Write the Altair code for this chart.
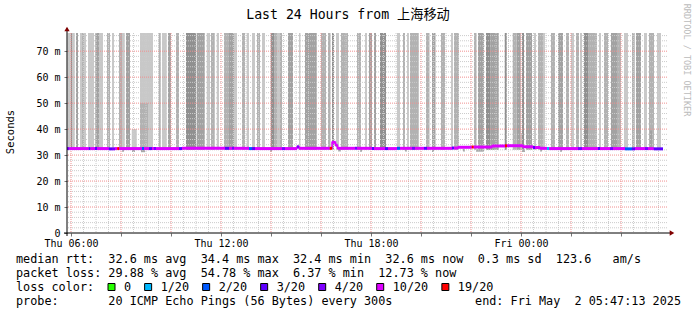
import altair as alt
import pandas as pd

NB = "\u00a0"
MONO = "DejaVu Sans Mono"

# ---------------- data (time in hours since Thu 00:00, rtt in ms) ----------------
smoke_start = [5.86, 5.99, 6.04, 6.20, 6.36, 6.44, 6.52, 6.68, 6.97, 7.12,
               7.44, 7.64, 7.92, 8.04, 8.20, 8.76, 9.08, 9.51, 9.64, 9.88,
               10.20, 10.60, 11.03, 11.43, 11.60, 11.83, 12.12, 12.32, 12.52, 12.84,
               13.03, 13.24, 13.44, 13.64, 13.99, 14.12, 14.24, 14.36, 14.68, 15.12,
               15.36, 16.00, 16.28, 16.44, 16.60, 16.80, 17.44, 17.76, 17.92, 18.12,
               18.36, 19.04, 19.28, 19.44, 19.56, 20.20, 20.44, 20.80, 21.20, 21.32,
               22.12, 22.28, 22.60, 22.79, 23.35, 23.67, 23.83, 24.04, 24.20, 24.52,
               24.68, 24.88, 25.20, 25.48, 25.80, 26.00, 26.20, 26.36, 26.52, 26.68,
               27.12, 27.32, 27.60, 27.84, 28.12, 28.44, 28.60, 28.92, 29.12, 29.44]
smoke_end = [5.98, 6.04, 6.15, 6.28, 6.44, 6.52, 6.60, 6.92, 7.12, 7.28,
             7.56, 7.72, 8.04, 8.15, 8.36, 9.08, 9.28, 9.59, 9.83, 10.00,
             10.32, 11.00, 11.35, 11.56, 11.75, 11.92, 12.32, 12.52, 12.64, 12.96,
             13.12, 13.36, 13.56, 13.76, 14.12, 14.24, 14.36, 14.44, 14.88, 15.18,
             15.83, 16.20, 16.38, 16.52, 16.72, 17.08, 17.60, 17.84, 18.04, 18.20,
             18.60, 19.16, 19.36, 19.52, 19.91, 20.34, 20.58, 20.96, 21.28, 21.52,
             22.22, 22.52, 22.79, 23.11, 23.43, 23.83, 23.99, 24.12, 24.44, 24.60,
             24.88, 24.96, 25.36, 25.68, 25.92, 26.12, 26.32, 26.44, 26.68, 27.04,
             27.20, 27.48, 27.84, 28.00, 28.28, 28.55, 28.80, 29.04, 29.32, 29.60]
smoke_shade = ["L", "K", "L", "D", "L", "M", "L", "L", "D", "L",
               "M", "L", "M", "L", "D", "L", "L", "M", "L", "D",
               "M", "K", "D", "L", "M", "L", "M", "D", "L", "M",
               "L", "L", "M", "L", "K", "M", "L", "M", "D", "L",
               "D", "M", "M", "K", "L", "M", "M", "L", "D", "D",
               "K", "L", "M", "L", "M", "M", "D", "M", "L", "M",
               "M", "D", "K", "D", "K", "M", "D", "K", "D", "L",
               "M", "L", "M", "D", "M", "L", "M", "L", "K", "M",
               "L", "M", "D", "M", "L", "M", "D", "L", "M", "L"]
smoke_floor_ms = 32.0
smoke_ceiling_ms = 77.0

short_start = [8.43, 8.76, 24.00, 29.16]
short_end = [8.63, 9.08, 24.04, 29.24]
short_shade = ["L", "M", "L", "D"]
short_top = [40.0, 50.0, 38.5, 39.5]

low_start = [8.04, 8.44, 8.80, 13.96, 16.68, 17.56, 19.36, 20.44, 21.68, 22.20, 24.04, 24.76, 25.56]
low_end = [8.12, 8.56, 8.96, 14.04, 16.80, 17.64, 19.44, 20.52, 21.76, 22.52, 24.16, 24.84, 25.64]
low_bottom = [31.3, 31.2, 31.1, 31.3, 31.4, 31.3, 31.4, 31.2, 31.4, 31.3, 31.2, 31.4, 31.3]

med_start = [5.84, 5.94, 6.71, 6.78, 6.96, 7.04, 7.51, 7.64, 7.76, 7.85,
             7.93, 8.84, 8.92, 9.12, 9.24, 9.32, 9.40, 10.32, 10.44, 12.16,
             12.32, 12.44, 12.52, 13.12, 13.24, 13.36, 14.44, 14.56, 15.04, 15.12,
             16.35, 16.44, 16.58, 16.66, 17.36, 17.44, 18.04, 18.12, 18.56, 18.68,
             19.04, 19.16, 19.64, 19.76, 20.12, 20.24, 21.24, 21.32, 21.48, 22.03,
             22.11, 22.84, 23.36, 23.44, 24.08, 24.48, 24.56, 24.76, 25.04, 25.12,
             26.28, 26.44, 27.08, 27.16, 27.56, 27.68, 28.16, 28.44, 28.56, 28.96,
             29.08, 29.31]
med_value = [32.5, 32.5, 32.5, 32.5, 32.5, 32.5, 32.4, 32.4, 32.5, 32.5,
             32.5, 32.5, 32.5, 32.5, 32.5, 32.5, 32.5, 32.5, 32.6, 32.6,
             32.6, 32.6, 32.6, 32.5, 32.5, 32.5, 32.5, 32.5, 33.2, 32.6,
             32.6, 34.9, 33.8, 32.6, 32.6, 32.6, 32.5, 32.5, 32.5, 32.5,
             32.6, 32.6, 32.6, 32.6, 32.6, 32.6, 32.7, 32.7, 33.0, 33.1,
             33.1, 33.5, 33.6, 33.6, 33.2, 32.9, 32.9, 32.6, 32.5, 32.5,
             32.5, 32.5, 32.5, 32.5, 32.5, 32.5, 32.4, 32.4, 32.5, 32.5,
             32.5, 32.4]
med_loss = ["4/20", "10/20", "3/20", "10/20", "3/20", "10/20", "3/20", "4/20", "10/20", "19/20",
            "10/20", "2/20", "10/20", "3/20", "10/20", "4/20", "10/20", "3/20", "10/20", "3/20",
            "10/20", "4/20", "10/20", "2/20", "3/20", "10/20", "4/20", "10/20", "4/20", "10/20",
            "19/20", "10/20", "10/20", "10/20", "4/20", "10/20", "3/20", "10/20", "3/20", "10/20",
            "2/20", "10/20", "4/20", "10/20", "3/20", "10/20", "3/20", "10/20", "10/20", "19/20",
            "10/20", "10/20", "19/20", "10/20", "10/20", "3/20", "10/20", "10/20", "1/20", "10/20",
            "4/20", "10/20", "3/20", "10/20", "4/20", "10/20", "2/20", "3/20", "10/20", "4/20",
            "10/20", "3/20"]
med_last_end = 29.68

loss_labels = ["0", "1/20", "2/20", "3/20", "4/20", "10/20", "19/20"]
loss_colors = ["#26ff00", "#00b8ff", "#0059ff", "#5e00ff", "#7e00ff", "#dd00ff", "#ff0000"]

y_tick_values = [0, 10, 20, 30, 40, 50, 60, 70]
x_label_hours = [6, 12, 18, 24]
x_label_text = ["Thu 06:00", "Thu 12:00", "Thu 18:00", "Fri 00:00"]

title_text = "Last 24 Hours from 上海移动"
y_title = "Seconds"
watermark = "RRDTOOL / TOBI OETIKER"
stat_lines = [
    "median rtt:  32.6 ms avg  34.4 ms max  32.4 ms min  32.6 ms now  0.3 ms sd  123.6   am/s",
    "packet loss: 29.88 % avg  54.78 % max  6.37 % min  12.73 % now",
    "loss color:",
    "probe:       20 ICMP Echo Pings (56 Bytes) every 300s",
]
end_text = "end: Fri May  2 05:47:13 2025"

# ---------------- layout constants ----------------
PLOT_W, PLOT_H = 600, 200
PAD_L, PAD_T = 67, 33
X_DOMAIN = [5.84, 29.84]
Y_DOMAIN = [0, 77]
CW = 7.13  # char width of legend font

xs = alt.Scale(domain=X_DOMAIN, nice=False, zero=False)
ys = alt.Scale(domain=Y_DOMAIN, nice=False, zero=False)
shade_scale = alt.Scale(domain=["L", "M", "D", "K"],
                        range=["#c8c8c8", "#b2b2b2", "#a2a2a2", "#909090"])
loss_scale = alt.Scale(domain=loss_labels, range=loss_colors)


def nb(s):
    return s.replace(" ", NB)


x_expr = "''"
for h, t in reversed(list(zip(x_label_hours, x_label_text))):
    x_expr = f"datum.value == {h} ? '{nb(t)}' : {x_expr}"

major_x = list(range(6, 29, 2))
minor_x = [h / 2 for h in range(12, 60) if (h / 2) not in major_x]
major_y = [v for v in y_tick_values if v > 0]
minor_y = [v for v in range(2, 77, 2) if v % 10 != 0]

x_axis = alt.Axis(values=major_x, labelExpr=x_expr, labelFont=MONO, labelFontSize=10,
                  labelColor="#000", tickSize=3, tickColor="#777", domain=False, grid=False,
                  title=None, labelPadding=2, labelFlush=False, labelOverlap=False)
y_axis = alt.Axis(values=y_tick_values,
                  labelExpr=f"datum.value == 0 ? '0{NB}{NB}' : datum.value + '{NB}m'",
                  labelFont=MONO, labelFontSize=10, labelColor="#000", tickSize=3,
                  tickColor="#777", domain=False, grid=False, title=None, labelPadding=4)


def X(field):
    return alt.X(field, scale=xs, axis=x_axis)


def Y(field):
    return alt.Y(field, scale=ys, axis=y_axis)


smoke_df = pd.DataFrame({"start": smoke_start, "end": smoke_end, "shade": smoke_shade,
                         "bottom": smoke_floor_ms, "top": smoke_ceiling_ms})
short_df = pd.DataFrame({"start": short_start, "end": short_end, "shade": short_shade,
                         "bottom": smoke_floor_ms, "top": short_top})
low_df = pd.DataFrame({"start": low_start, "end": low_end, "bottom": low_bottom,
                       "top": smoke_floor_ms + 0.3})
med_end = med_start[1:] + [med_last_end]
med_df = pd.DataFrame({"start": med_start, "end": med_end, "value": med_value, "loss": med_loss})
conn_df = pd.DataFrame({"start": med_start + [med_last_end], "value": med_value + [med_value[-1]]})

smoke = alt.Chart(smoke_df).mark_rect().encode(
    x=X("start:Q"), x2="end:Q", y=Y("bottom:Q"), y2="top:Q",
    color=alt.Color("shade:N", scale=shade_scale, legend=None))
short = alt.Chart(short_df).mark_rect().encode(
    x=X("start:Q"), x2="end:Q", y=Y("bottom:Q"), y2="top:Q",
    color=alt.Color("shade:N", scale=shade_scale, legend=None))
low = alt.Chart(low_df).mark_rect(color="#a8a8a8").encode(
    x=X("start:Q"), x2="end:Q", y=Y("bottom:Q"), y2="top:Q")


def grid_y(vals, color):
    return alt.Chart(pd.DataFrame({"bottom": vals})).mark_rule(
        color=color, strokeDash=[1, 1], strokeWidth=1).encode(y=Y("bottom:Q"))


def grid_x(vals, color):
    return alt.Chart(pd.DataFrame({"start": vals})).mark_rule(
        color=color, strokeDash=[1, 1], strokeWidth=1).encode(x=X("start:Q"))


grids = [grid_y(minor_y, "#cccccc"), grid_x(minor_x, "#cccccc"),
         grid_y(major_y, "#f09090"), grid_x(major_x, "#f09090")]

conn = alt.Chart(conn_df).mark_line(interpolate="step-after", color="#dd00ff",
                                    strokeWidth=1.5).encode(
    x=X("start:Q"), y=Y("value:Q"))
med = alt.Chart(med_df).mark_rule(strokeWidth=3).encode(
    x=X("start:Q"), x2="end:Q", y=Y("value:Q"),
    color=alt.Color("loss:N", scale=loss_scale, legend=None))

one = pd.DataFrame({"a": [0]})
yaxis_line = alt.Chart(one).mark_rule(color="#000", strokeWidth=1).encode(
    x=alt.value(0), y=alt.value(-5), y2=alt.value(PLOT_H + 3))
xaxis_line = alt.Chart(one).mark_rule(color="#000", strokeWidth=1).encode(
    x=alt.value(-3), x2=alt.value(PLOT_W + 5), y=alt.value(PLOT_H))
arrow_up = alt.Chart(one).mark_point(shape="triangle-up", filled=True, size=28,
                                     color="#800000", opacity=1).encode(
    x=alt.value(0), y=alt.value(-4))
arrow_right = alt.Chart(one).mark_point(shape="triangle-right", filled=True, size=28,
                                        color="#800000", opacity=1).encode(
    x=alt.value(PLOT_W + 5), y=alt.value(PLOT_H))


def text(s, x, y, size=11.8, align="left", angle=0, color="#000", font=MONO):
    kw = dict(font=font, fontSize=size, align=align, baseline="middle", color=color)
    if angle:
        kw["angle"] = angle
    return alt.Chart(pd.DataFrame({"t": [nb(s)]})).mark_text(**kw).encode(
        text="t:N", x=alt.value(x), y=alt.value(y))


texts = [
    text(title_text, 348 - PAD_L, 15 - PAD_T, size=13.2, align="center",
         font=MONO + ", Noto Sans CJK SC"),
    text(y_title, 11 - PAD_L, 132 - PAD_T, size=10.5, align="center", angle=270),
    text(watermark, 687 - PAD_L, 60 - PAD_T, size=8.5, align="center", angle=90,
         color="#bbbbbb"),
    text(end_text, 681 - PAD_L, 301 - PAD_T, align="right"),
]
for i, line in enumerate(stat_lines):
    texts.append(text(line, 16 - PAD_L, [259.3, 273.3, 287, 301][i] - PAD_T))

legend_items = []
bx = 108.0
for lab, col in zip(loss_labels, loss_colors):
    legend_items.append(alt.Chart(one).mark_rect(fill=col, stroke="#000", strokeWidth=1).encode(
        x=alt.value(bx - PAD_L), x2=alt.value(bx + 7 - PAD_L),
        y=alt.value(283.5 - PAD_T), y2=alt.value(290.5 - PAD_T)))
    legend_items.append(text(lab, bx + 16 - PAD_L, 287 - PAD_T))
    bx = bx + 16 + len(lab) * CW + 13.5

chart = alt.layer(
    smoke, short, low, *grids, conn, med, yaxis_line, xaxis_line, arrow_up, arrow_right,
    *texts, *legend_items
).resolve_scale(color="independent").properties(
    width=PLOT_W, height=PLOT_H,
    padding={"left": PAD_L, "top": PAD_T, "right": 697 - PAD_L - PLOT_W,
             "bottom": 315 - PAD_T - PLOT_H},
    autosize=alt.AutoSizeParams(type="none"),
    background="white",
).configure_view(stroke=None)

chart.save("out.html", embed_options={"renderer": "svg", "actions": False})
